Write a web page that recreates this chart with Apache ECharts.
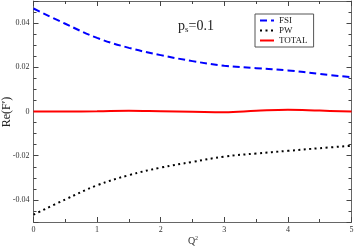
<!DOCTYPE html>
<html>
<head>
<meta charset="utf-8">
<script src="https://cdn.jsdelivr.net/npm/echarts@6/dist/echarts.min.js"></script>
<style>html,body{margin:0;padding:0;background:#fff}#c{width:354px;height:248px}</style>
</head>
<body>
<div id="c"></div>
<script>
var qValues = [0, 0.5, 1, 1.5, 2, 2.5, 3, 3.5, 4, 4.5, 5];
var fsiValues = [0.0466, 0.0397, 0.0333, 0.0288, 0.0255, 0.0228, 0.0207, 0.0196, 0.0186, 0.0170, 0.0155];
var pwValues = [-0.0467, -0.0398, -0.0334, -0.0288, -0.0254, -0.0228, -0.0204, -0.0190, -0.0178, -0.0166, -0.0155];
var totalValues = [0.0000, 0.0000, 0.0001, 0.0003, 0.0001, -0.0001, -0.0003, 0.0003, 0.0008, 0.0004, 0.0000];
var xTicks = [0, 1, 2, 3, 4, 5];
var yTicks = [-0.04, -0.02, 0, 0.02, 0.04];

function pairs(vals) { return qValues.map(function (q, i) { return [q, vals[i]]; }); }

var serif = 'Liberation Serif';
var axisColor = '#666';
var chart = echarts.init(document.getElementById('c'), null, { renderer: 'canvas' });

function xAxisDef(pos, showLabel) {
  return {
    type: 'value', position: pos, min: 0, max: 5, interval: 1,
    axisLine: { show: true, onZero: false, lineStyle: { color: axisColor, width: 1 } },
    axisTick: { show: true, inside: true, length: 5, lineStyle: { color: '#444' } },
    minorTick: { show: true, splitNumber: 2, length: 3, lineStyle: { color: '#444' } },
    splitLine: { show: false },
    axisLabel: { show: showLabel, fontFamily: serif, fontSize: 8, color: '#333', margin: 4,
      formatter: function (v) { return xTicks.indexOf(v) >= 0 ? String(v) : ''; } }
  };
}
function yAxisDef(pos, showLabel) {
  return {
    type: 'value', position: pos, min: -0.05, max: 0.05, splitNumber: 5,
    axisLine: { show: true, onZero: false, lineStyle: { color: axisColor, width: 1 } },
    axisTick: { show: true, inside: true, length: 5, lineStyle: { color: '#444' } },
    minorTick: { show: true, splitNumber: 4, length: 3, lineStyle: { color: '#444' } },
    splitLine: { show: false },
    axisLabel: { show: showLabel, fontFamily: serif, fontSize: 8, color: '#333', margin: 4,
      showMinLabel: false, showMaxLabel: false,
      formatter: function (v) {
        for (var i = 0; i < yTicks.length; i++) {
          if (Math.abs(v - yTicks[i]) < 1e-9) return yTicks[i] === 0 ? '0' : String(yTicks[i]);
        }
        return '';
      } }
  };
}

chart.setOption({
  animation: false,
  backgroundColor: '#fff',
  grid: { left: 33.5, right: 2.5, top: 1, bottom: 26, containLabel: false, outerBoundsMode: 'none' },
  xAxis: [xAxisDef('bottom', true), xAxisDef('top', false)],
  yAxis: [yAxisDef('left', true), yAxisDef('right', false)],
  legend: {
    left: 255, top: 14, orient: 'vertical',
    backgroundColor: '#fff', borderColor: '#555', borderWidth: 1,
    padding: [2, 6, 2, 4], itemGap: 1, itemWidth: 14, itemHeight: 9,
    itemStyle: { opacity: 0 },
    textStyle: { fontFamily: serif, fontSize: 9, color: '#222' },
    data: ['FSI', 'PW', 'TOTAL']
  },
  graphic: [{
    type: 'text', left: 178, top: 19,
    style: { text: '{p|p}{s|s}{p|=0.1}', rich: {
      p: { fontFamily: serif, fontSize: 14, fill: '#222' },
      s: { fontFamily: serif, fontSize: 9, fill: '#222', padding: [8, 0, 0, 0] } } }
  }, {
    type: 'text', x: 7, y: 112, rotation: Math.PI / 2,
    style: { text: 'Re(F\u2032)', fontFamily: serif, fontSize: 12, fill: '#222',
      align: 'center', verticalAlign: 'middle' }
  }, {
    type: 'text', x: 193, y: 241,
    style: { text: '{q|Q}{s|2}', align: 'center', verticalAlign: 'middle', rich: {
      q: { fontFamily: serif, fontSize: 10, fill: '#333' },
      s: { fontFamily: serif, fontSize: 6, fill: '#333', padding: [0, 0, 6, 0] } } }
  }],
  series: [
    { name: 'FSI', type: 'line', data: pairs(fsiValues), smooth: 0.4, showSymbol: false, symbol: 'none',
      lineStyle: { color: '#0000ff', width: 2, type: [7, 4] }, itemStyle: { color: '#0000ff' } },
    { name: 'PW', type: 'line', data: pairs(pwValues), smooth: 0.4, showSymbol: false, symbol: 'none',
      lineStyle: { color: '#000', width: 2, type: [2, 3.5] }, itemStyle: { color: '#000' } },
    { name: 'TOTAL', type: 'line', data: pairs(totalValues), smooth: 0.4, showSymbol: false, symbol: 'none',
      lineStyle: { color: '#ff0000', width: 2 }, itemStyle: { color: '#ff0000' } }
  ]
});
</script>
</body>
</html>
